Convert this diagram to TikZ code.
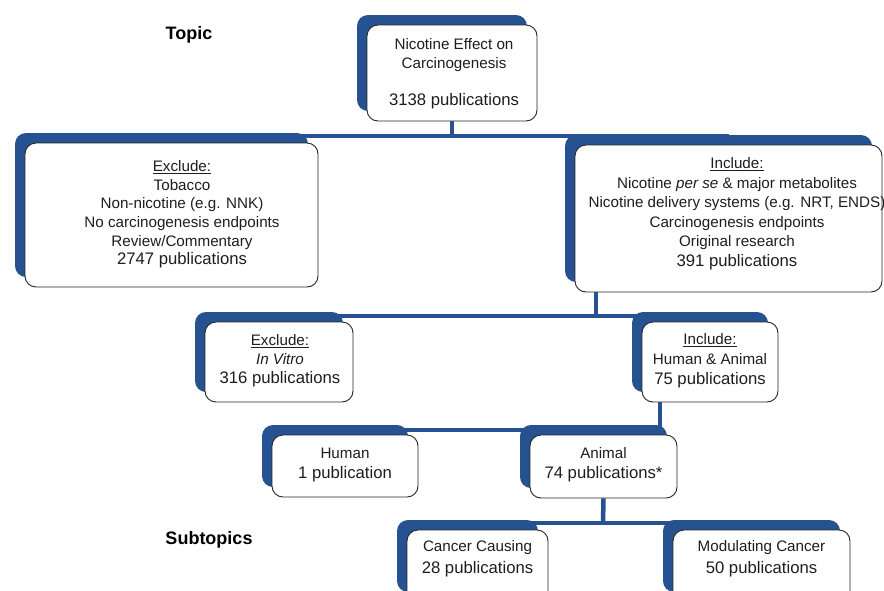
\documentclass[tikz,border=0pt]{standalone}
\usepackage{fontspec}
\setmainfont{Liberation Sans}
\usetikzlibrary{shadows,backgrounds}
\definecolor{shblue}{RGB}{38,82,145}
\definecolor{txt}{RGB}{30,30,30}
\newcommand{\lbfont}{\fontsize{15.2}{18.6}\selectfont}
\newcommand{\nm}[1]{{\fontsize{16.7}{18.6}\selectfont #1}}
\begin{document}
\begin{tikzpicture}[x=1pt,y=-1pt,
  box/.style={draw=black!85, line width=0.9pt, fill=white, rounded corners=11pt, inner sep=0pt,
    general shadow={fill=shblue, shadow xshift=-10pt, shadow yshift=10pt}},
  txtn/.style={align=center, font=\lbfont, text=txt, inner sep=0pt},
  conn/.style={draw=shblue, line width=4.5pt},
  head/.style={font=\bfseries\fontsize{18}{20}\selectfont, text=black, inner sep=0pt}]
\useasboundingbox (0,0) rectangle (884,590);
\clip (0,0) rectangle (884,590);

% headings
\node[head] (topic) at (189,35) {Topic};
\node[head] (subtopics) at (209,540) {Subtopics};

% boxes
\node[box, minimum width=170pt, minimum height=96pt] (top) at (452,73) {};
\node[box, minimum width=293pt, minimum height=144pt] (ex1) at (171.5,215) {};
\node[box, minimum width=307pt, minimum height=147pt] (in1) at (728.5,218.5) {};
\node[box, minimum width=148pt, minimum height=80pt] (ex2) at (279,362) {};
\node[box, minimum width=136pt, minimum height=80pt] (in2) at (710,362) {};
\node[box, minimum width=146pt, minimum height=62pt] (human) at (345,466) {};
\node[box, minimum width=147pt, minimum height=63pt] (animal) at (603.5,466.5) {};
\node[box, minimum width=141pt, minimum height=72pt] (cc) at (477.5,566) {};
\node[box, minimum width=177pt, minimum height=72pt] (mod) at (761.5,566) {};

% texts
\node[txtn] (topt) at (454,74) {Nicotine Effect on\\Carcinogenesis\\[19pt]\nm{3138 publications}};
\node[txtn] (ex1t) at (182,214.5) {\underline{Exclude:}\\Tobacco\\Non-nicotine (e.g. NNK)\\No carcinogenesis endpoints\\Review/Commentary\\\nm{2747 publications}};
\node[txtn, font=\fontsize{15.2}{19.5}\selectfont] (in1t) at (737,213.5) {\underline{Include:}\\Nicotine \emph{per se} \& major metabolites\\Nicotine delivery systems (e.g. NRT, ENDS)\\Carcinogenesis endpoints\\Original research\\\nm{391 publications}};
\node[txtn, font=\fontsize{15.2}{19}\selectfont] (ex2t) at (280,361) {\underline{Exclude:}\\\emph{In Vitro}\\\nm{316 publications}};
\node[txtn, font=\fontsize{15.2}{20}\selectfont] (in2t) at (710,361) {\underline{Include:}\\Human \& Animal\\\nm{75 publications}};
\node[txtn, font=\fontsize{15.2}{20}\selectfont] (humant) at (345,465) {Human\\\nm{1 publication}};
\node[txtn, font=\fontsize{15.2}{20}\selectfont] (animalt) at (603.5,465) {Animal\\\nm{74 publications*}};
\node[txtn, font=\fontsize{15.2}{22}\selectfont] (cct) at (477.5,559) {Cancer Causing\\\nm{28 publications}};
\node[txtn, font=\fontsize{15.2}{22}\selectfont] (modt) at (761.5,559) {Modulating Cancer\\\nm{50 publications}};

% junction coordinates
\coordinate (j1) at (452,136);
\coordinate (d2) at (596,292);
\coordinate (j2) at (596,316);
\coordinate (d3) at (660,402);
\coordinate (j3) at (660,430);
\coordinate (j4) at (603,523);

\begin{scope}[on background layer]
  \draw[conn] (top.south) -- (j1);
  \draw[conn] (ex1.center |- j1) -- (in1.center |- j1);
  \draw[conn] (d2) -- (j2);
  \draw[conn] (ex2.center |- j2) -- (in2.center |- j2);
  \draw[conn] (d3) -- (j3);
  \draw[conn] (human.center |- j3) -- (j3);
  \draw[conn] (animal.south) -- (j4);
  \draw[conn] (cc.center |- j4) -- (mod.center |- j4);
\end{scope}
\end{tikzpicture}
\end{document}
